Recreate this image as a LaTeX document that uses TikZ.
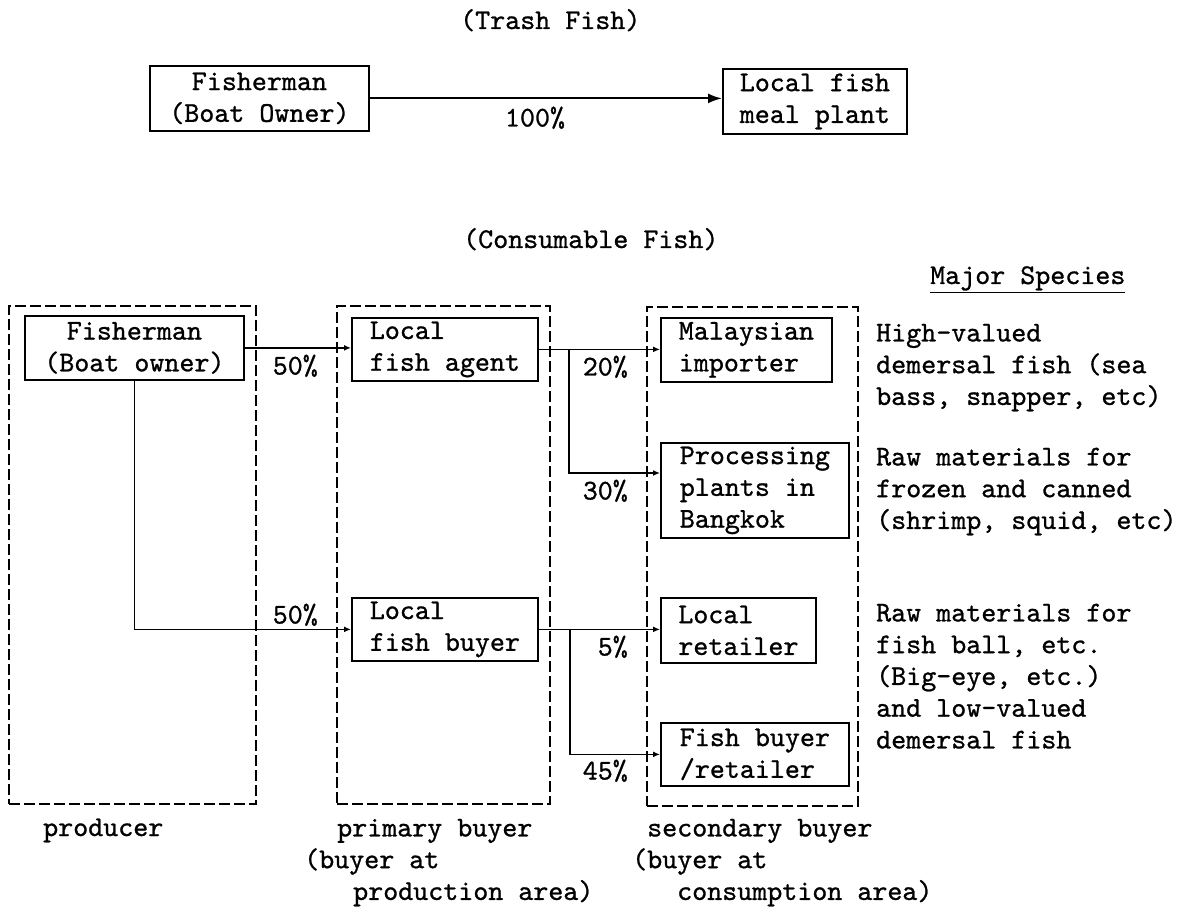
\documentclass[tikz,border=0pt]{standalone}
\usepackage{fontspec}
\newfontfamily\twfont{lmmono10-regular}[Extension=.otf, FakeBold=0.9]
\usetikzlibrary{arrows.meta,calc}
\tikzset{
  tw/.style={font=\fontsize{28.6pt}{31.75pt}\selectfont\twfont},
  box/.style={tw, draw, line width=1.8pt, anchor=north west, align=left, inner sep=0pt},
  cbox/.style={box, align=center},
  group/.style={draw, line width=2.2pt, dash pattern=on 11pt off 4pt, anchor=north west, inner sep=0pt},
  conn/.style={line width=1.5pt},
  arr/.style={conn, -{Latex[length=7pt,width=6pt]}},
  bigarr/.style={line width=2pt, -{Latex[length=14pt,width=10pt]}},
  lbl/.style={tw, inner sep=0pt},
  txt/.style={tw, inner sep=0pt, align=left, anchor=north west},
}
\begin{document}
\begin{tikzpicture}[x=1pt,y=-1pt]
\fill[white] (0,0) rectangle (1195,909);
\useasboundingbox (0,0) rectangle (1195,909);

% ---- Trash fish ----
\node[lbl, anchor=base west] (ttrash) at (460,29) {(Trash Fish)};
\node[cbox, minimum width=219pt, minimum height=65pt] (tfish) at (149,65) {Fisherman\\(Boat Owner)};
\node[box, minimum width=184pt, minimum height=65pt] (meal) at (722,68) {Local fish\\meal plant};
\draw[bigarr] (tfish.east) -- (tfish.east -| meal.west);
\node[lbl, anchor=base] (p100) at (535,126.5) {100\%};

% ---- Consumable fish ----
\node[lbl, anchor=base west] (tcons) at (463,248) {(Consumable Fish)};
\node[lbl, anchor=base west] (tmajor) at (930,284) {\underline{Major Species}};

% groups
\node[group, minimum width=247pt, minimum height=498pt] (prod) at (8,305) {};
\node[group, minimum width=213pt, minimum height=498pt] (prim) at (336,305) {};
\node[group, minimum width=211pt, minimum height=499pt] (sec) at (646,306) {};

% boxes
\node[cbox, minimum width=219pt, minimum height=64pt] (fish) at (24,315) {Fisherman\\(Boat owner)};
\node[box, minimum width=186pt, minimum height=63pt] (agent) at (351,317) {Local\\fish agent};
\node[box, minimum width=186pt, minimum height=63pt] (fbuyer) at (351,597) {Local\\fish buyer};
\node[box, minimum width=171pt, minimum height=64pt] (malay) at (660,317) {Malaysian\\importer};
\node[box, minimum width=188pt, minimum height=95pt] (proc) at (660,442) {Processing\\plants in\\Bangkok};
\node[box, minimum width=155pt, minimum height=65pt] (lret) at (660,597) {Local\\retailer};
\node[box, minimum width=188pt, minimum height=63pt] (fbret) at (660,722) {Fish buyer\\/retailer};

% connectors
\draw[arr] (fish.east) -- (fish.east -| agent.west);
\draw[arr] (fish.south) |- (fbuyer.west);
\draw[arr] (agent.east) -- (agent.east -| malay.west);
\coordinate (b1) at ($(agent.east)+(30,0)$);
\coordinate (p1) at ($(proc.north west)+(0,31)$);
\draw[arr] (b1) |- (p1);
\draw[arr] (fbuyer.east) -- (fbuyer.east -| lret.west);
\coordinate (b2) at ($(fbuyer.east)+(31,0)$);
\draw[arr] (b2) |- (fbret.west);

% percentages
\node[lbl, anchor=base east] (l50a) at (318,374.5) {50\%};
\node[lbl, anchor=base east] (l50b) at (318,623.5) {50\%};
\node[lbl, anchor=base east] (l20) at (628,375.5) {20\%};
\node[lbl, anchor=base east] (l30) at (628,499.5) {30\%};
\node[lbl, anchor=base east] (l5) at (628,655.5) {5\%};
\node[lbl, anchor=base east] (l45) at (628,779.5) {45\%};

% species descriptions
\node[txt] (d1) at (876,319) {\strut High-valued\\\strut demersal fish (sea\\\strut bass, snapper, etc)};
\node[txt] (d2) at (876,443) {\strut Raw materials for\\\strut frozen and canned\\\strut (shrimp, squid, etc)};
\node[txt] (d3) at (876,599) {\strut Raw materials for\\\strut fish ball, etc.\\\strut (Big-eye, etc.)\\\strut and low-valued\\\strut demersal fish};

% bottom labels
\node[lbl, anchor=base west] (lprod) at (43,836) {producer};
\node[txt] (lprim) at (304,814) {\strut\hspace*{33pt}primary buyer\\\strut(buyer at\\\strut\hspace*{49pt}production area)};
\node[txt] (lsec) at (632,814) {\strut\hspace*{15pt}secondary buyer\\\strut(buyer at\\\strut\hspace*{45pt}consumption area)};
\end{tikzpicture}
\end{document}
